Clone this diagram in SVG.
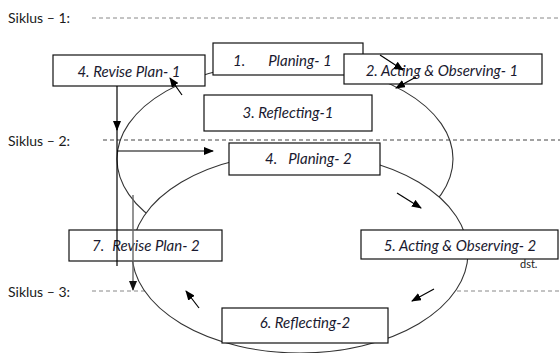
<svg xmlns="http://www.w3.org/2000/svg" width="560" height="353" viewBox="0 0 560 353">
<style>
.lbl{font-family:"Lato","Liberation Sans",sans-serif;font-style:italic;font-size:15px;fill:#1a1a30}
.sik{font-family:"Lato","Liberation Sans",sans-serif;font-size:14px;fill:#1a1a1a}
.box{fill:#fff;stroke:#111;stroke-width:1.2}
.ell{stroke:#333;stroke-width:1.1}
.dash{stroke:#888;stroke-width:1;stroke-dasharray:4 3;fill:none}
.ln{stroke:#000;stroke-width:1.2;fill:none}
</style>
<defs>
<marker id="ah" markerWidth="10" markerHeight="8" refX="9" refY="4" orient="auto" markerUnits="userSpaceOnUse">
<path d="M0,0 L10,4 L0,8 Z" fill="#000"/>
</marker>
<marker id="ahg" markerWidth="10" markerHeight="8" refX="9" refY="4" orient="auto" markerUnits="userSpaceOnUse">
<path d="M0,0 L10,4 L0,8 Z" fill="#111"/>
</marker>
</defs>
<rect width="560" height="353" fill="#fff"/>

<g id="siklus">
<text class="sik" x="8" y="23">Siklus – 1:</text>
<text class="sik" x="8" y="146">Siklus – 2:</text>
<text class="sik" x="8" y="297">Siklus – 3:</text>
<line class="dash" x1="92" y1="18" x2="560" y2="18"/>
<line class="dash" x1="103" y1="140" x2="560" y2="140" style="stroke:#444"/>
<line class="dash" x1="92" y1="291" x2="150" y2="291"/>
<line class="dash" x1="450" y1="291" x2="560" y2="291"/>
</g>

<g id="cycles">
<ellipse class="ell" cx="285" cy="159" rx="168" ry="96" fill="none"/>
<ellipse class="ell" cx="300" cy="253" rx="168" ry="100" fill="#fff"/>
</g>

<g id="n1"><rect class="box" x="213" y="43" width="150" height="32"/>
<text class="lbl" x="233" y="66">1.</text><text class="lbl" x="300" y="66" text-anchor="middle">Planing- 1</text></g>
<g id="n4"><rect class="box" x="53" y="55" width="152" height="31"/>
<text class="lbl" x="129" y="77" text-anchor="middle">4. Revise Plan- 1</text></g>
<g id="n2"><rect class="box" x="344" y="54" width="198" height="30"/>
<text class="lbl" x="442" y="76" text-anchor="middle">2. Acting &amp; Observing- 1</text></g>
<g id="n3"><rect class="box" x="204" y="95" width="168" height="36"/>
<text class="lbl" x="288" y="118" text-anchor="middle">3. Reflecting-1</text></g>
<g id="n4b"><rect class="box" x="229" y="143" width="151" height="32"/>
<text class="lbl" x="265" y="164">4.</text><text class="lbl" x="320" y="164" text-anchor="middle">Planing- 2</text></g>
<g id="n7"><rect class="box" x="69" y="230" width="153" height="31"/>
<text class="lbl" x="92" y="251">7.</text><text class="lbl" x="156" y="251" text-anchor="middle">Revise Plan- 2</text></g>
<g id="n5"><rect class="box" x="361" y="230" width="197" height="29"/>
<text class="lbl" x="460" y="251" text-anchor="middle">5. Acting &amp; Observing- 2</text></g>
<g id="n6"><rect class="box" x="222" y="308" width="166" height="35"/>
<text class="lbl" x="305" y="328" text-anchor="middle">6. Reflecting-2</text></g>
<text x="520" y="268" font-family="Lato, 'Liberation Sans', sans-serif" font-size="11" fill="#222">dst.</text>

<g id="connectors">
<line class="ln" x1="117" y1="86" x2="117" y2="130" marker-end="url(#ah)"/>
<line class="ln" x1="117" y1="128" x2="117" y2="266"/>
<line class="ln" x1="117" y1="151" x2="213" y2="151" marker-end="url(#ah)"/>
<line x1="133" y1="195" x2="133" y2="290" stroke="#666" stroke-width="1.4" marker-end="url(#ahg)"/>
<line class="ln" x1="182" y1="95" x2="170" y2="78" marker-end="url(#ah)"/>
<line class="ln" x1="380" y1="55" x2="403" y2="70" marker-end="url(#ah)"/>
<line class="ln" x1="416" y1="77" x2="396" y2="88" marker-end="url(#ah)"/>
<line class="ln" x1="397" y1="193" x2="421" y2="208" marker-end="url(#ah)"/>
<line class="ln" x1="434" y1="289" x2="412" y2="301" marker-end="url(#ah)"/>
<line class="ln" x1="199" y1="308" x2="186" y2="291" marker-end="url(#ah)"/>
</g>
</svg>
